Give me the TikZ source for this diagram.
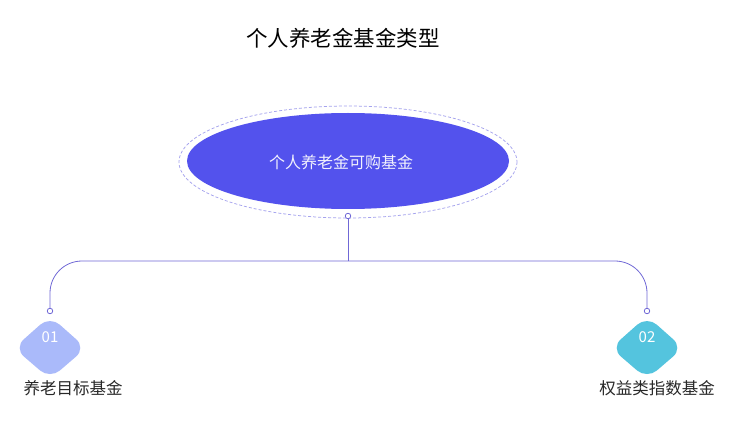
\documentclass[tikz,border=0pt]{standalone}
\usepackage{fontspec}
\setmainfont{Noto Sans CJK SC}
\newfontfamily\cjk{Noto Sans CJK SC}
\definecolor{mainblue}{RGB}{83,82,237}
\definecolor{linecol}{RGB}{112,104,214}
\definecolor{dashcol}{RGB}{165,163,238}
\definecolor{onecol}{RGB}{170,186,250}
\definecolor{twocol}{RGB}{84,196,222}
\definecolor{txtcol}{RGB}{40,40,40}
\tikzset{
  conn/.style={draw=linecol, line width=0.8pt},
  dotc/.style={circle, draw=linecol, fill=white, line width=0.8pt, inner sep=0pt, minimum size=5.5pt},
  badge/.style={rounded corners=13pt},
  numtxt/.style={text=white, font=\cjk\fontsize{15}{18}\selectfont},
  labtxt/.style={text=txtcol, font=\cjk\fontsize{16.5}{19}\selectfont},
}
\begin{document}
\begin{tikzpicture}[x=1pt,y=-1pt]
\useasboundingbox (0,0) rectangle (737,425);
\fill[white] (0,0) rectangle (737,425);
% title
\node[text=black, font=\cjk\fontsize{21.5}{25}\selectfont] (title) at (343,38) {个人养老金基金类型};
% central ellipse
\draw[dashcol, line width=0.75pt, dash pattern=on 3pt off 2pt] (348,162) ellipse [x radius=169, y radius=56];
\fill[mainblue] (348,161) ellipse [x radius=161, y radius=48];
\node[text=white!92!mainblue, font=\cjk\fontsize{16}{19}\selectfont] (center) at (341,162) {个人养老金可购基金};
% connectors
\coordinate (junc) at (348,261);
\node[dotc] (d0) at (348,216) {};
\node[dotc] (d1) at (50,311) {};
\node[dotc] (d2) at (647,311) {};
\draw[conn] (d0) -- (junc);
\draw[conn, rounded corners=32pt] (junc) -- (50,261) -- (d1);
\draw[conn, rounded corners=32pt] (junc) -- (647,261) -- (d2);
% badges
\fill[onecol, badge] (50,316) -- (86,348) -- (50,379) -- (14,348) -- cycle;
\node[numtxt] (n1) at (50,337) {01};
\fill[twocol, badge] (647,316) -- (683,348) -- (647,379) -- (611,348) -- cycle;
\node[numtxt] (n2) at (647,337) {02};
% labels
\node[labtxt] (l1) at (73,388) {养老目标基金};
\node[labtxt] (l2) at (657,388) {权益类指数基金};
\end{tikzpicture}
\end{document}
